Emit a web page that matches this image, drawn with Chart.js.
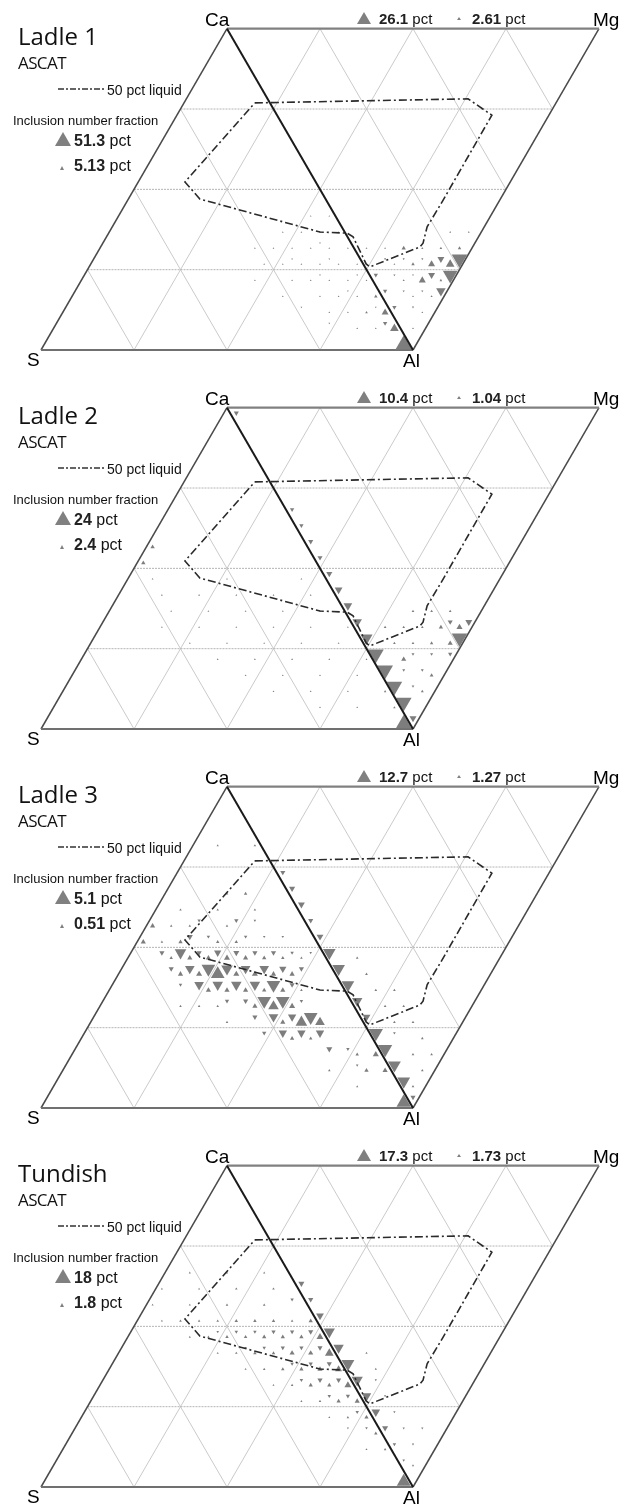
<!DOCTYPE html>
<html>
<head>
<meta charset="utf-8">
<script src="https://cdn.jsdelivr.net/npm/chart.js@4.4.0/dist/chart.umd.min.js"></script>
<style>
  body { margin: 0; width: 629px; height: 1504px; overflow: hidden; background: #fff; font-family: "Liberation Sans", Arial, sans-serif; color: #111; }
  .panel { position: absolute; left: 0; width: 629px; height: 379px; }
  .panel canvas { position: absolute; left: 0; top: 0; }
  .t { position: absolute; white-space: nowrap; line-height: 1; }
  .vtx { font-size: 19px; color: #000; }
  .title { font-family: "Open Sans", sans-serif; font-size: 24px; }
  .sub { font-family: "Open Sans", sans-serif; font-size: 17px; letter-spacing: -0.6px; }
  .leg { font-size: 14px; }
  .frac { font-size: 13px; }
  .num { font-size: 16px; }
  .num b, .top b { font-weight: bold; color: #222; }
  .top { font-size: 15px; }
  .tri { position: absolute; width: 0; height: 0; border-style: solid; border-color: transparent transparent #808080 transparent; }
</style>
</head>
<body>
<script>
// panel texts
const panelTitles = ['Ladle 1', 'Ladle 2', 'Ladle 3', 'Tundish']
const leftLegendBig = ['51.3', '24', '5.1', '18']
const leftLegendSmall = ['5.13', '2.4', '0.51', '1.8']
const topLegendBig = ['26.1', '10.4', '12.7', '17.3']
const topLegendSmall = ['2.61', '1.04', '1.27', '1.73']

// 50 pct liquid boundary (diagram units, S=(0,0), Al=(1,0))
const liquidX = [0.575, 1.148, 1.212, 1.081, 1.038, 1.027, 1.019, 0.884, 0.874, 0.839, 0.823, 0.750, 0.427, 0.387, 0.575]
const liquidY = [0.666, 0.677, 0.633, 0.404, 0.332, 0.288, 0.278, 0.224, 0.232, 0.305, 0.315, 0.318, 0.407, 0.453, 0.666]

const gridFractions = [0.25, 0.5, 0.75]

// inclusion cells: [row, column, number fraction pct] on a 20 step grid
const ladle1Cells = [
  [5,45,21.1],[4,44,18.9],[3,43,7.9],[5,44,6.5],[5,42,4.2],[5,43,4.2],[4,41,4.2],[4,42,4.2],
  [4,36,1.6],[3,37,1.6],[2,38,1.6],[6,45,1.0],[6,43,0.6],[6,39,1.6],[5,40,1.0],
  [2,40,0.4],[2,41,0.3],[3,39,0.4],[3,40,0.3],[3,41,0.4],[3,42,0.4],[1,40,0.3],[4,38,0.4],
  [4,39,0.4],[4,40,0.3],[4,43,0.6],[5,37,0.4],[5,38,0.3],[5,39,0.4],[5,41,0.4],[6,35,0.3],
  [6,37,0.3],[6,41,0.4],[7,44,0.3],[7,46,0.3],
  [0,39,46.3],[1,38,12.8],[2,37,8.2],[1,37,3.2],[3,36,2.1],[2,35,1.2],
  [1,34,0.5],[1,36,0.5],[2,31,0.5],[2,33,0.5],[2,36,0.5],[3,30,0.5],[3,32,0.5],[3,34,0.5],
  [3,33,0.5],[4,27,0.5],[4,29,0.5],[4,31,0.5],[4,33,0.5],[4,35,0.5],[4,30,0.5],[4,34,0.5],
  [5,26,0.5],[5,28,0.5],[5,30,0.5],[5,32,0.5],[5,34,0.5],[5,27,0.5],[5,31,0.5],[6,25,0.5],
  [6,27,0.5],[6,29,0.5],[6,31,0.5],[6,33,0.5],[6,30,0.5],[7,26,0.5],[7,28,0.5],[7,30,0.5],
  [7,32,0.5],[8,29,0.5],[8,31,0.5],[5,24,0.5],[4,23,0.5],[6,23,0.5],[3,26,0.5],[2,28,0.5],[1,31,0.5]
]
const ladle2Cells = [
  [19,21,0.9],[13,27,0.65],[12,28,0.65],[11,29,0.9],[10,30,0.9],[9,31,1.3],[8,32,2.1],[7,33,2.6],
  [6,34,3.1],[5,35,5.1],[4,36,8.8],[3,37,8.6],[2,38,8.4],[1,39,8.6],[0,40,1.7],
  [6,46,1.7],[6,45,1.3],[6,44,0.9],[7,44,0.25],[5,45,8.4],[5,44,0.9],[6,43,0.65],[5,42,0.4],
  [4,39,0.9],[4,44,0.65],
  [5,38,0.25],[5,40,0.25],[4,40,0.3],[4,42,0.3],[3,39,0.3],[3,41,0.3],[2,40,0.25],[6,37,0.25],
  [6,39,0.25],[6,41,0.25],[7,40,0.25],[7,42,0.25],[3,42,0.5],[2,41,0.3],
  [0,39,19.4],[11,12,1.5],[10,11,1.5],
  [8,13,0.25],[8,17,0.25],[8,21,0.25],[8,25,0.25],[8,29,0.25],[7,14,0.25],[7,18,0.25],[7,22,0.25],
  [7,26,0.25],[7,30,0.25],[6,13,0.25],[6,17,0.25],[6,21,0.25],[6,25,0.25],[6,29,0.25],[6,33,0.25],
  [5,16,0.25],[5,20,0.25],[5,24,0.25],[5,28,0.25],[5,32,0.25],[4,19,0.25],[4,23,0.25],[4,27,0.25],
  [4,31,0.25],[4,35,0.25],[3,22,0.25],[3,26,0.25],[3,30,0.25],[3,34,0.25],[2,25,0.25],[2,29,0.25],
  [2,33,0.25],[2,37,0.5],[1,30,0.25],[1,34,0.25],[1,38,0.5],[9,12,0.25],[9,20,0.25],[9,28,0.25]
]
const ladle3Cells = [
  [14,26,1.1],[13,27,1.6],[12,28,2.0],[11,29,1.1],[10,30,2.0],[9,31,6.8],[8,32,6.8],[7,33,6.8],
  [6,34,4.6],[5,35,2.6],[4,36,8.6],[3,37,8.6],[2,38,7.0],[1,39,7.0],[0,40,1.1],
  [8,35,0.3],[7,36,0.3],[6,37,0.3],[5,38,0.3],[5,40,0.3],[4,41,0.3],[3,40,0.3],[2,41,0.3],
  [4,38,0.3],[6,39,0.3],[7,38,0.3],[3,42,0.3],[1,40,0.3],[9,34,0.3],
  [0,39,3.5],
  [8,14,0.46],[8,15,0.46],[8,16,1.6],[8,17,0.62],[8,18,3.2],[8,19,3.2],[8,20,2.3],[8,21,0.62],
  [8,22,1.6],[8,23,0.62],[8,24,1.6],[8,25,0.46],[8,26,0.9],[8,27,0.46],[8,28,0.46],
  [7,15,0.2],[7,17,1.6],[7,18,0.46],[7,19,1.9],[7,20,0.46],[7,21,1.9],[7,22,0.46],[7,23,1.9],
  [7,24,0.32],[7,25,3.2],[7,26,0.46],[7,27,0.46],[7,28,0.11],
  [6,15,0.11],[6,17,0.11],[6,19,0.11],[6,20,0.32],[6,22,0.46],[6,23,0.46],[6,24,3.2],[6,25,1.9],
  [6,26,3.2],[6,27,0.62],[6,28,0.2],
  [5,20,0.11],[5,23,0.46],[5,25,1.6],[5,26,0.46],[5,27,1.2],[5,28,2.3],[5,29,3.2],[5,30,1.6],
  [4,24,0.32],[4,26,1.2],[4,27,0.32],[4,28,1.2],[4,29,0.2],[4,30,1.2],
  [3,31,0.62],[3,33,0.2],[3,34,0.2],[3,36,0.62],[2,31,0.11],[2,34,0.11],[2,35,0.32],[2,37,0.46],[1,34,0.08],
  [9,13,0.46],[9,14,0.2],[9,15,2.3],[9,16,0.46],[9,17,0.46],[9,18,0.46],[9,19,0.9],[9,20,0.62],
  [9,21,0.62],[9,22,0.46],[9,23,0.46],[9,24,0.32],[9,25,0.46],[9,26,0.2],[9,27,0.2],[9,28,0.11],[9,29,0.11],
  [10,11,0.46],[10,13,0.11],[10,15,0.32],[10,16,0.62],[10,18,0.2],[10,19,0.2],[10,21,0.2],[10,22,0.2],
  [10,24,0.11],[10,26,0.11],
  [11,12,0.46],[11,14,0.11],[11,16,0.11],[11,17,0.2],[11,20,0.11],[11,21,0.32],[11,23,0.11],
  [12,15,0.11],[12,19,0.11],[12,23,0.11],[13,20,0.11],[13,22,0.2],[16,19,0.08],[16,23,0.11]
]
const tundishCells = [
  [12,28,2.1],[11,29,1.6],[10,30,3.5],[9,31,7.3],[8,32,6.2],[7,33,9.7],[6,34,7.3],[5,35,5.2],
  [4,36,4.3],[3,37,2.1],[2,38,0.7],[1,39,0.4],
  [6,36,0.3],[5,37,0.3],[4,38,0.3],[3,39,0.3],[7,36,0.3],[2,40,0.3],[1,40,0.3],[8,35,0.3],[3,41,0.3],
  [0,39,11.5],
  [12,13,0.26],[12,17,0.26],[12,21,0.4],[12,25,0.4],
  [11,12,0.26],[11,16,0.26],[11,20,0.4],[11,24,0.4],[11,27,0.72],
  [10,13,0.26],[10,15,0.4],[10,17,0.4],[10,19,0.4],[10,21,0.72],[10,23,0.72],[10,25,0.72],[10,27,0.4],[10,29,1.1],
  [9,16,0.26],[9,18,0.4],[9,19,0.4],[9,20,0.72],[9,21,0.72],[9,22,0.72],[9,23,0.72],[9,24,1.1],
  [9,25,1.1],[9,26,1.1],[9,27,1.1],[9,28,1.1],[9,29,1.6],[9,30,2.9],
  [8,19,0.26],[8,21,0.4],[8,22,0.4],[8,23,0.72],[8,24,0.72],[8,25,0.72],[8,26,1.1],[8,27,1.6],
  [8,28,1.1],[8,29,1.6],[8,30,1.6],[8,31,4.5],
  [7,22,0.26],[7,24,0.4],[7,26,0.72],[7,27,0.72],[7,28,1.1],[7,29,1.1],[7,30,1.6],[7,31,1.6],[7,32,2.9],
  [6,25,0.26],[6,27,0.4],[6,28,0.72],[6,29,1.1],[6,30,1.6],[6,31,1.1],[6,32,1.6],[6,33,2.9],
  [5,28,0.26],[5,30,0.4],[5,31,0.72],[5,32,1.1],[5,33,1.1],[5,34,1.6],
  [4,31,0.26],[4,33,0.4],[4,34,0.72],[4,35,1.1],[3,33,0.26],[3,35,0.4],[3,36,0.72],
  [2,35,0.26],[2,37,0.4],[13,16,0.26],[13,20,0.26],[13,24,0.26]
]
const panelCells = [ladle1Cells, ladle2Cells, ladle3Cells, tundishCells]

// geometry
const PANEL_H = 379
const X_MIN = -41 / 372, X_MAX = 588 / 372
const Y_MIN = -29 / 371, Y_MAX = 350 / 371
const TOP = 0.8660254
const ROW_H = TOP / 20
const R_MAX = 10
const S = [0, 0], Al = [1, 0], Ca = [0.5, TOP], Mg = [1.5, TOP]

function seg(a, b, color, width, dash, order) {
  return {
    data: [{x: a[0], y: a[1]}, {x: b[0], y: b[1]}],
    showLine: true, pointRadius: 0, borderColor: color, borderWidth: width,
    borderDash: dash || [], fill: false, order: order, clip: false
  }
}

function gridSets() {
  let sets = []
  gridFractions.forEach(f => {
    let h = f * TOP
    // horizontal
    sets.push(seg([f / 2, h], [1 + f / 2, h], '#b4b4b4', 1, [2, 1], 5))
    // parallel to S-Ca
    sets.push(seg([f, 0], [f + 0.5, TOP], '#c4c4c4', 0.9, [], 5))
    // parallel to Ca-Al, left triangle
    sets.push(seg([f, 0], [f / 2, f * TOP], '#c4c4c4', 0.9, [], 5))
    // parallel to Ca-Al, right triangle
    sets.push(seg([1 + f / 2, h], [0.5 + f, TOP], '#c4c4c4', 0.9, [], 5))
  })
  return sets
}

function markerSet(cells, leftMax, rightMax) {
  let pts = [], radius = [], rot = []
  cells.forEach(([row, k, pct]) => {
    let up = Math.abs(k - row) % 2 === 1
    let maxPct = k <= 39 - row ? leftMax : rightMax
    pts.push({x: 0.025 * k, y: ROW_H * (row + (up ? 1 / 3 : 2 / 3))})
    radius.push(R_MAX * Math.sqrt(pct / maxPct))
    rot.push(up ? 0 : 180)
  })
  return {
    data: pts, pointStyle: 'triangle', pointRadius: radius, pointRotation: rot,
    pointBackgroundColor: '#7d7d7d', pointBorderWidth: 0, showLine: false, order: 2, clip: false
  }
}

function addText(panel, cls, left, top, html) {
  let d = document.createElement('div')
  d.className = 't ' + cls
  d.style.left = left + 'px'
  d.style.top = top + 'px'
  d.innerHTML = html
  panel.appendChild(d)
}

function addTri(panel, left, top, w, h) {
  let d = document.createElement('div')
  d.className = 'tri'
  d.style.left = left + 'px'
  d.style.top = top + 'px'
  d.style.borderWidth = `0 ${w}px ${h}px ${w}px`
  panel.appendChild(d)
}

panelTitles.forEach((title, p) => {
  let panel = document.createElement('div')
  panel.className = 'panel'
  panel.style.top = (p * PANEL_H) + 'px'
  document.body.appendChild(panel)
  let canvas = document.createElement('canvas')
  canvas.width = 629
  canvas.height = PANEL_H
  panel.appendChild(canvas)

  let liquid = {
    data: liquidX.map((x, i) => ({x: x, y: liquidY[i]})),
    showLine: true, pointRadius: 0, borderColor: '#2a2a2a', borderWidth: 1.6,
    borderDash: [8, 3, 2, 3], fill: false, order: 1, clip: false
  }
  let datasets = [
    seg(Al, Ca, '#1a1a1a', 2, [], 0),
    liquid,
    markerSet(panelCells[p], parseFloat(leftLegendBig[p]), parseFloat(topLegendBig[p])),
    seg(S, Al, '#707070', 2.2, [], 3),
    seg(S, Ca, '#4a4a4a', 1.5, [], 3),
    seg(Ca, Mg, '#808080', 2.2, [], 3),
    seg(Al, Mg, '#4a4a4a', 1.5, [], 3),
    ...gridSets()
  ]

  new Chart(canvas, {
    type: 'scatter',
    data: { datasets: datasets },
    options: {
      responsive: false,
      animation: false,
      events: [],
      layout: { padding: 0, autoPadding: false },
      plugins: { legend: { display: false }, tooltip: { enabled: false } },
      scales: {
        x: { type: 'linear', display: false, min: X_MIN, max: X_MAX },
        y: { type: 'linear', display: false, min: Y_MIN, max: Y_MAX }
      }
    }
  })

  addText(panel, 'vtx', 205, 10, 'Ca')
  addText(panel, 'vtx', 593, 10, 'Mg')
  addText(panel, 'vtx', 27, 350, 'S')
  addText(panel, 'vtx', 403, 351, 'Al')
  addText(panel, 'title', 18, 24, title)
  addText(panel, 'sub', 18, 54, 'ASCAT')
  addText(panel, 'leg', 107, 83, '50 pct liquid')
  let svg = document.createElementNS('http://www.w3.org/2000/svg', 'svg')
  svg.setAttribute('width', '48')
  svg.setAttribute('height', '6')
  svg.style.position = 'absolute'
  svg.style.left = '58px'
  svg.style.top = '86px'
  svg.innerHTML = '<line x1="0" y1="3" x2="48" y2="3" stroke="#333" stroke-width="1.3" stroke-dasharray="6,2,2,2"/>'
  panel.appendChild(svg)
  addText(panel, 'frac', 13, 114, 'Inclusion number fraction')
  addTri(panel, 55, 132, 8.5, 14.5)
  addText(panel, 'num', 74, 133, '<b>' + leftLegendBig[p] + '</b> pct')
  addTri(panel, 59.5, 165.5, 2.5, 4.3)
  addText(panel, 'num', 74, 158, '<b>' + leftLegendSmall[p] + '</b> pct')
  addTri(panel, 357, 12, 7.5, 12.5)
  addText(panel, 'top', 379, 11, '<b>' + topLegendBig[p] + '</b> pct')
  addTri(panel, 457, 16.5, 2, 3.5)
  addText(panel, 'top', 472, 11, '<b>' + topLegendSmall[p] + '</b> pct')
})
</script>
</body>
</html>
